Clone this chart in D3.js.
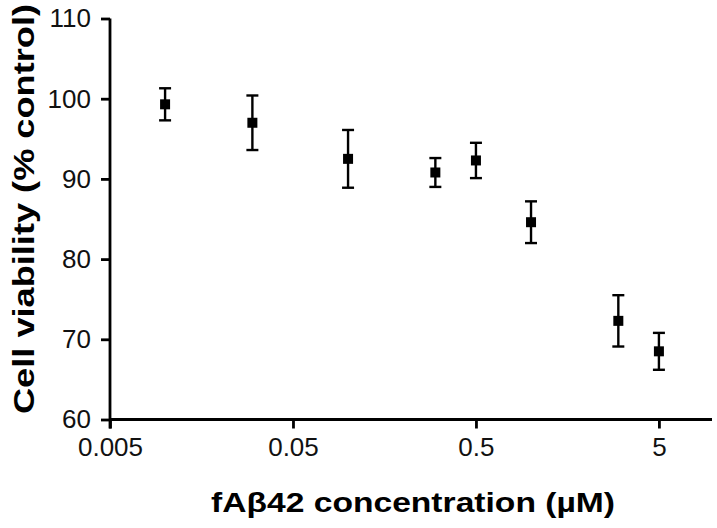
<!DOCTYPE html>
<html>
<head>
<meta charset="utf-8">
<script src="https://cdn.jsdelivr.net/npm/d3@7"></script>
<style>
  body { margin: 0; background: #fff; }
  svg text { font-family: "Liberation Sans", Arial, sans-serif; }
</style>
</head>
<body>
<div id="chart"></div>
<script>
// data
var conc = [0.01, 0.03, 0.1, 0.3, 0.5, 1, 3, 5];          // fAβ42 (µM)
var viability = [99.3, 97.0, 92.5, 90.8, 92.3, 84.6, 72.3, 68.5];
var sem = [2.0, 3.4, 3.6, 1.8, 2.2, 2.6, 3.2, 2.3];
var xTicks = [0.005, 0.05, 0.5, 5];
var yTicks = [60, 70, 80, 90, 100, 110];

var W = 717, H = 528;

var svg = d3.select("#chart").append("svg")
  .attr("width", W)
  .attr("height", H);

//scales
var x = d3.scaleLog()
  .domain([0.005, 10])
  .range([110, 714]);

var y = d3.scaleLinear()
  .domain([60, 110])
  .range([419.5, 18.5]);

//x axis
var xAxis = svg.append("g")
  .attr("transform", "translate(0," + y(60) + ")")
  .call(d3.axisBottom(x)
    .tickValues(xTicks)
    .tickFormat(function(d) { return String(d); })
    .tickSize(9)
    .tickSizeOuter(0)
    .tickPadding(9));
xAxis.select(".domain").attr("d", "M110,0H712");

//y axis
var yAxis = svg.append("g")
  .attr("transform", "translate(" + x(0.005) + ",0)")
  .call(d3.axisLeft(y)
    .tickValues(yTicks)
    .tickSize(9)
    .tickSizeOuter(0)
    .tickPadding(10));
yAxis.select(".domain").attr("d", "M0," + y(110) + "V" + (y(60) + 9));

svg.selectAll(".domain, .tick line")
  .attr("stroke", "#000")
  .attr("stroke-width", 2.8);
svg.selectAll(".tick text")
  .attr("fill", "#111")
  .style("font-size", "26px");

//axis titles
svg.append("text")
  .attr("x", 413)
  .attr("y", 512)
  .attr("text-anchor", "middle")
  .attr("textLength", 404)
  .attr("lengthAdjust", "spacingAndGlyphs")
  .style("font-size", "28px")
  .style("font-weight", "bold")
  .text("fAβ42 concentration (µM)");

svg.append("text")
  .attr("transform", "translate(34,209) rotate(-90)")
  .attr("text-anchor", "middle")
  .attr("textLength", 410)
  .attr("lengthAdjust", "spacingAndGlyphs")
  .style("font-size", "30px")
  .style("font-weight", "bold")
  .text("Cell viability (% control)");

//error bars
var pts = conc.map(function(c, i) { return {c: c, v: viability[i], e: sem[i]}; });
var cap = 6;

var eb = svg.append("g")
  .selectAll("g")
  .data(pts)
  .enter()
  .append("g")
  .attr("stroke", "#000")
  .attr("stroke-width", 2.4);

eb.append("line")
  .attr("x1", function(d) { return x(d.c); })
  .attr("x2", function(d) { return x(d.c); })
  .attr("y1", function(d) { return y(d.v + d.e); })
  .attr("y2", function(d) { return y(d.v - d.e); });
eb.append("line")
  .attr("x1", function(d) { return x(d.c) - cap; })
  .attr("x2", function(d) { return x(d.c) + cap; })
  .attr("y1", function(d) { return y(d.v + d.e); })
  .attr("y2", function(d) { return y(d.v + d.e); });
eb.append("line")
  .attr("x1", function(d) { return x(d.c) - cap; })
  .attr("x2", function(d) { return x(d.c) + cap; })
  .attr("y1", function(d) { return y(d.v - d.e); })
  .attr("y2", function(d) { return y(d.v - d.e); });

//square markers
svg.append("g")
  .selectAll("rect")
  .data(pts)
  .enter()
  .append("rect")
  .attr("x", function(d) { return x(d.c) - 5; })
  .attr("y", function(d) { return y(d.v) - 5; })
  .attr("width", 10)
  .attr("height", 10)
  .attr("fill", "#000");
</script>
</body>
</html>
